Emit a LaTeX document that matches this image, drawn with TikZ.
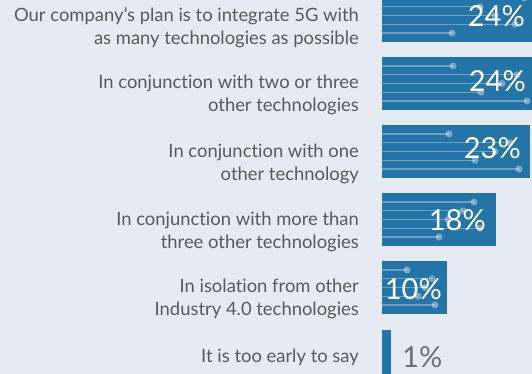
\documentclass[tikz,border=0pt]{standalone}
\usepackage{fontspec}
\setmainfont{Lato}[Ligatures={NoCommon,NoDiscretionary}]
\definecolor{bg}{RGB}{230,234,243}
\definecolor{barblue}{RGB}{36,116,168}
\definecolor{lbl}{RGB}{88,89,91}
\definecolor{pctgray}{RGB}{110,111,114}
\begin{document}
\begin{tikzpicture}[x=1pt,y=-1pt,
  bar/.style={fill=barblue},
  deco/.style={draw=white,draw opacity=0.33,line width=1.4pt},
  decodot/.style={fill=white,fill opacity=0.38},
  lab/.style={anchor=base east,align=right,text=lbl,font=\fontsize{18.4}{23}\selectfont,inner sep=0pt},
  pct/.style={anchor=base east,text=white,font=\fontsize{29}{32}\selectfont,inner sep=0pt},
  pctout/.style={anchor=base west,text=pctgray,font=\fontsize{29}{32}\selectfont,inner sep=0pt}]
\fill[bg] (0,0) rectangle (532,374);
\useasboundingbox (0,0) rectangle (532,374);
\clip (0,0) rectangle (532,374);
% bars
\foreach \i/\w/\dots in {0/154/{524,480,495,515,452},
                         1/154/{453,517,502,481,527},
                         2/148/{449,510,495,475,519},
                         3/114/{474,463,448,480,439},
                         4/65/{407,432,425,418,435}}{
  \pgfmathsetmacro{\t}{-11+68*\i}
  \fill[bar] (382,\t) rectangle ++(\w,53);
  \pgfmathsetmacro{\c}{\t+26.5}
  \foreach \dx [count=\k] in \dots {
    \pgfmathsetmacro{\yy}{\c+(\k-3)*8.75}
    \draw[deco] (382,\yy) -- (\dx,\yy);
    \fill[decodot] (\dx,\yy) circle (3.5);
  }
}
\fill[bar] (382,330) rectangle ++(9,53);
% percentages
\node[pct] (p1) at (525,27) {24\%};
\node[pct] (p2) at (526,92) {24\%};
\node[pct] (p3) at (521,159) {23\%};
\node[pct] (p4) at (486,230) {18\%};
\node[pct] (p5) at (442,299) {10\%};
\node[pctout] (p6) at (402,367) {1\%};
% labels (anchor = baseline of last line)
\node[lab] (l1) at (359,45) {Our company’s plan is to integrate 5G with\\as many technologies as possible};
\node[lab] (l2) at (359,112) {In conjunction with two or three\\other technologies};
\node[lab] (l3) at (359,180) {In conjunction with one\\other technology};
\node[lab] (l4) at (359,248) {In conjunction with more than\\three other technologies};
\node[lab] (l5) at (359,315) {In isolation from other\\Industry 4.0 technologies};
\node[lab] (l6) at (359,362) {It is too early to say};
\end{tikzpicture}
\end{document}
